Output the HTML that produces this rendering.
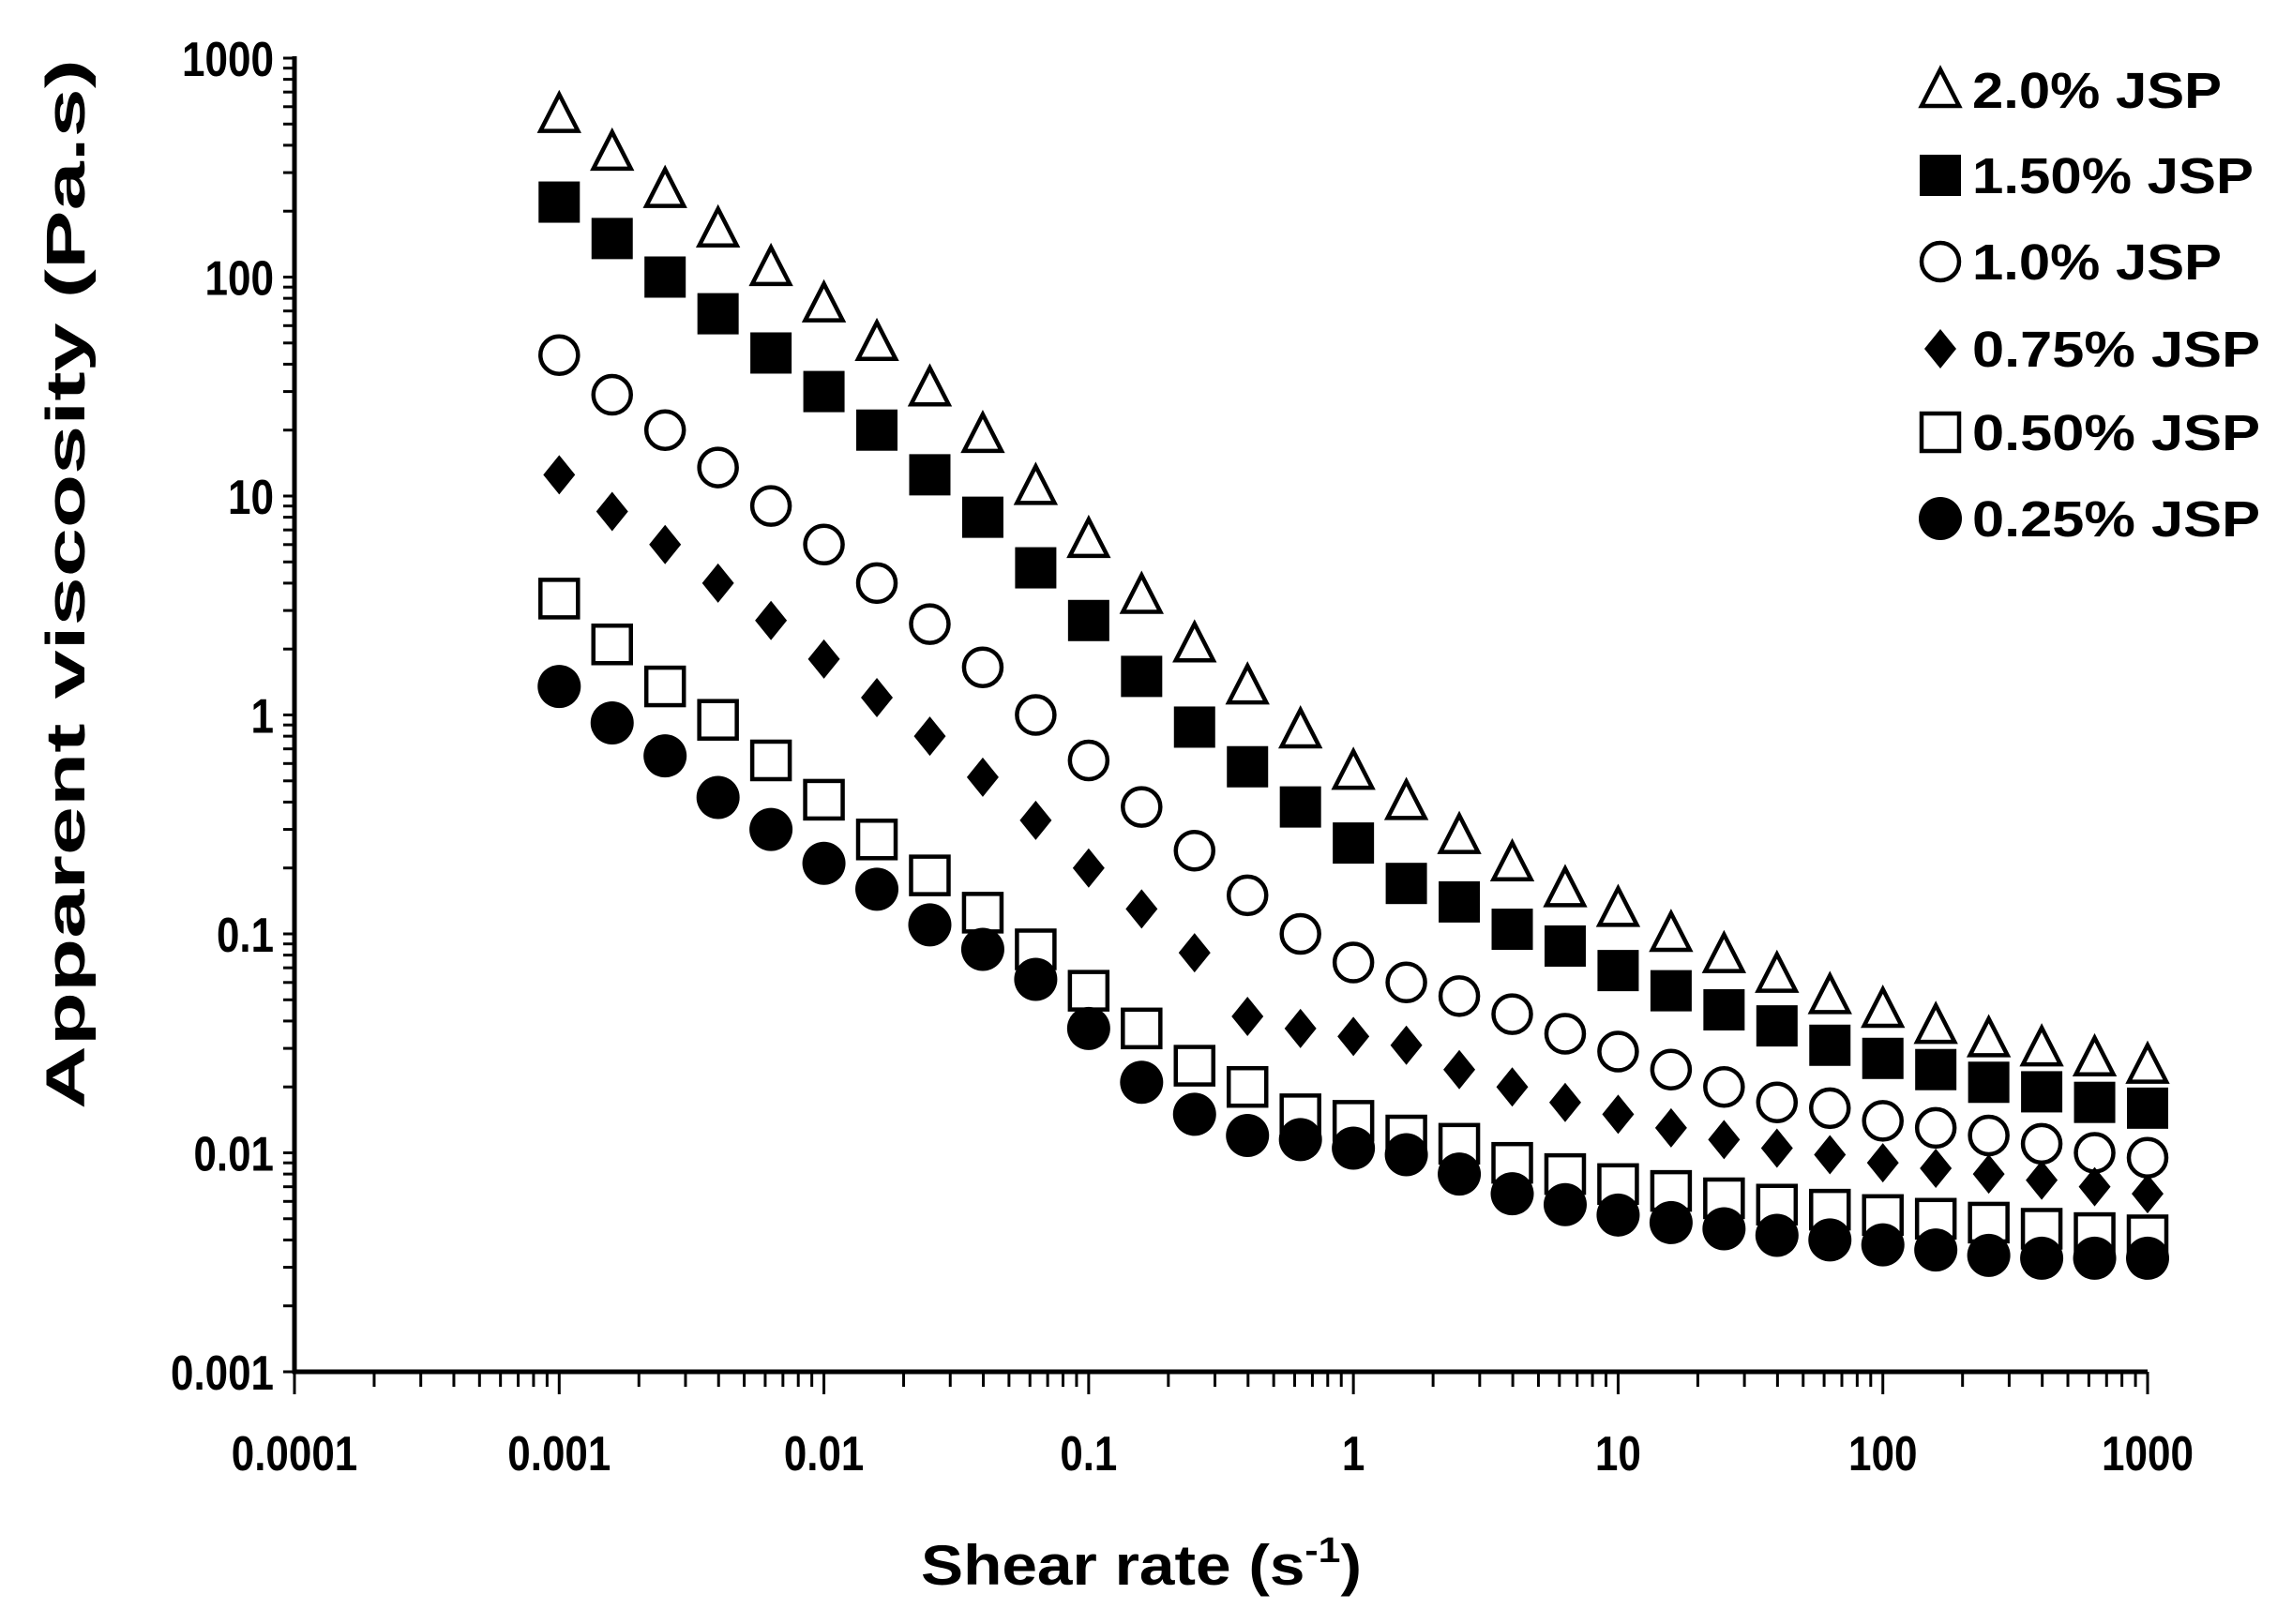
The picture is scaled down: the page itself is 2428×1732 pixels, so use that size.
<!DOCTYPE html>
<html><head><meta charset="utf-8"><style>
html,body{margin:0;padding:0;background:#fff;width:2428px;height:1732px;overflow:hidden}
svg text{font-family:"Liberation Sans",sans-serif;font-weight:bold;fill:#000}
</style></head><body>
<svg id="s" width="2428" height="1732" viewBox="0 0 2428 1732" xmlns="http://www.w3.org/2000/svg">
<rect width="2428" height="1732" fill="#fff"/>
<g id="g"></g>
<text x="90" y="623" font-size="58" text-anchor="middle" textLength="1120" lengthAdjust="spacingAndGlyphs" transform="rotate(-90 90 623)">Apparent viscosity  (Pa.s)</text>
<text x="1217" y="1690" font-size="60" text-anchor="middle" textLength="470" lengthAdjust="spacingAndGlyphs">Shear rate (s<tspan dy="-24" font-size="38">-1</tspan><tspan dy="24">)</tspan></text>
</svg>
<script>
const X0=314,X1=2290,Y0=1463,Y1=62;
const fx=v=>X0+(Math.log10(v)+4)*(X1-X0)/7;
const fy=v=>Y0-(Math.log10(v)+3)*(Y0-Y1)/6;
const tl=t=>{let w=0;for(const c of t)w+=(c=='.'?12:24.5);return w;};
let h='';
h+=`<line x1="${X0}" y1="${Y1-2}" x2="${X0}" y2="${Y0+2}" stroke="#000" stroke-width="5"/>`;
h+=`<line x1="${X0-2}" y1="${Y0}" x2="${X1}" y2="${Y0}" stroke="#000" stroke-width="5"/>`;
for(let d=-4;d<=3;d++){for(let m=1;m<=9;m++){if(d==3&&m>1)break;const x=fx(m*Math.pow(10,d));
h+=`<line x1="${x}" y1="${Y0}" x2="${x}" y2="${Y0+(m==1?24:16)}" stroke="#000" stroke-width="3"/>`;}}
for(let d=-3;d<=3;d++){for(let m=1;m<=9;m++){if(d==3&&m>1)break;const y=fy(m*Math.pow(10,d));
h+=`<line x1="${X0}" y1="${y}" x2="${X0-12}" y2="${y}" stroke="#000" stroke-width="3"/>`;}}
const xl=['0.0001','0.001','0.01','0.1','1','10','100','1000'];
xl.forEach((t,i)=>{h+=`<text x="${fx(Math.pow(10,i-4))}" y="1568" font-size="52" text-anchor="middle" textLength="${tl(t)}" lengthAdjust="spacingAndGlyphs">${t}</text>`});
const yl=['0.001','0.01','0.1','1','10','100','1000'];
yl.forEach((t,i)=>{h+=`<text x="292" y="${fy(Math.pow(10,i-3))+19}" font-size="52" text-anchor="end" textLength="${tl(t)}" lengthAdjust="spacingAndGlyphs">${t}</text>`});
function mk(t,x,y){const r=22;
if(t=='tri')return `<polygon points="${x},${y-22} ${x-20},${y+17} ${x+20},${y+17}" fill="#fff" stroke="#000" stroke-width="4.5"/>`;
if(t=='sq')return `<rect x="${x-r}" y="${y-r}" width="${2*r}" height="${2*r}" fill="#000"/>`;
if(t=='osq')return `<rect x="${x-20}" y="${y-20}" width="40" height="40" fill="#fff" stroke="#000" stroke-width="4.5"/>`;
if(t=='oc')return `<circle cx="${x}" cy="${y}" r="20" fill="#fff" stroke="#000" stroke-width="4.5"/>`;
if(t=='c')return `<circle cx="${x}" cy="${y}" r="23" fill="#000"/>`;
if(t=='dia')return `<polygon points="${x},${y-21} ${x+17},${y} ${x},${y+21} ${x-17},${y}" fill="#000"/>`;}
const S=[
['tri',[550,370,250,165,110,75,50,31,19,11,6.3,3.5,2.1,1.35,0.85,0.55,0.4,0.28,0.21,0.16,0.13,0.1,0.08,0.065,0.052,0.045,0.038,0.033,0.03,0.027,0.025]],
['sq',[220,150,100,68,45,30,20,12.5,8,4.7,2.7,1.5,0.88,0.58,0.38,0.26,0.17,0.14,0.105,0.088,0.068,0.055,0.045,0.038,0.031,0.027,0.024,0.021,0.019,0.017,0.016]],
['oc',[44,29,20,13.5,9,6,4,2.6,1.65,1.0,0.62,0.38,0.24,0.15,0.1,0.074,0.06,0.052,0.043,0.035,0.029,0.024,0.02,0.017,0.016,0.014,0.013,0.012,0.011,0.010,0.0095]],
['dia',[12.5,8.5,6,4,2.7,1.8,1.2,0.8,0.52,0.33,0.2,0.13,0.082,0.042,0.037,0.034,0.031,0.024,0.02,0.017,0.015,0.013,0.0115,0.0105,0.0098,0.009,0.0085,0.008,0.0075,0.007,0.0065]],
['osq',[3.4,2.1,1.35,0.95,0.62,0.41,0.27,0.185,0.125,0.085,0.055,0.037,0.025,0.02,0.015,0.014,0.012,0.011,0.009,0.008,0.0072,0.0067,0.0062,0.0058,0.0055,0.0052,0.005,0.0048,0.0045,0.0043,0.0042]],
['c',[1.35,0.92,0.65,0.42,0.3,0.21,0.16,0.11,0.085,0.062,0.037,0.021,0.015,0.012,0.0115,0.0105,0.0098,0.008,0.0065,0.0058,0.0052,0.0048,0.0045,0.0042,0.004,0.0038,0.0036,0.0034,0.0033,0.0033,0.0033]]];
S.forEach(s=>s[1].forEach((v,k)=>{h+=mk(s[0],fx(Math.pow(10,-3+k*0.2)),fy(v));}));
const L=[['tri','2.0% JSP',266],['sq','1.50% JSP',300],['oc','1.0% JSP',266],['dia','0.75% JSP',307],['osq','0.50% JSP',307],['c','0.25% JSP',307]];
const ly=[96,187,279,372,461,553];
L.forEach((l,i)=>{h+=mk(l[0],2069,ly[i]);h+=`<text x="2103" y="${ly[i]+19}" font-size="54" textLength="${l[2]}" lengthAdjust="spacingAndGlyphs">${l[1]}</text>`;});
document.getElementById('g').innerHTML=h;
</script>
</body></html>
